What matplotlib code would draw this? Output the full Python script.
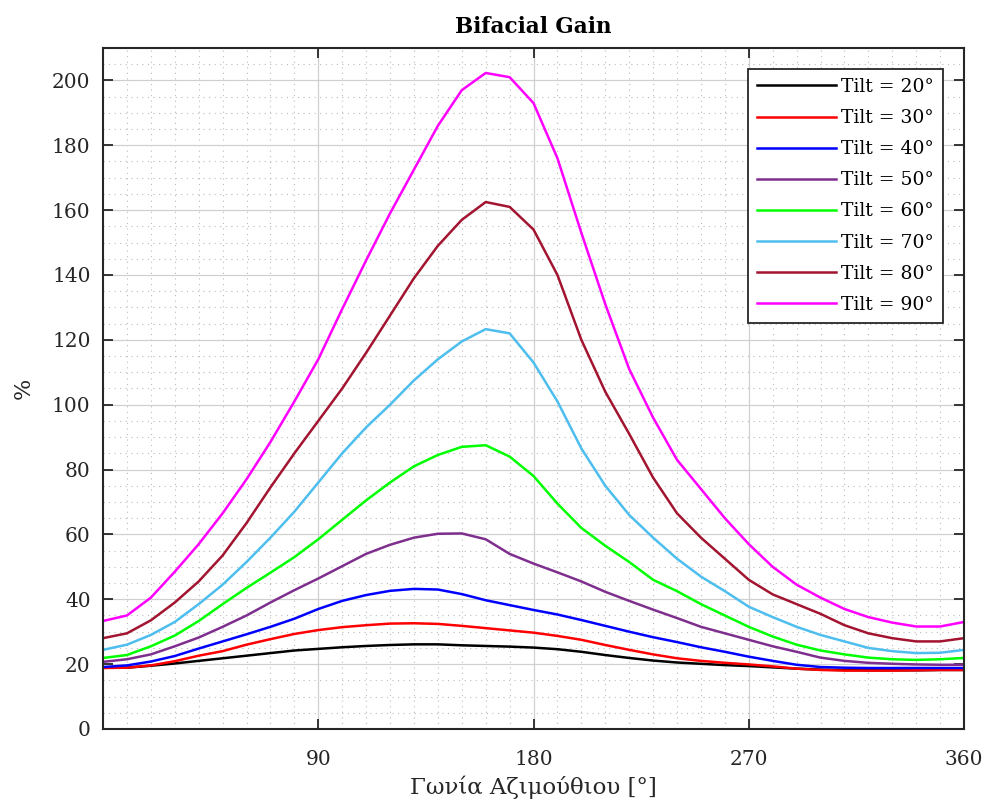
import numpy as np
import matplotlib
matplotlib.use('Agg')
import matplotlib.pyplot as plt
from matplotlib.ticker import MultipleLocator

plt.rcParams['font.family'] = ['DejaVu Serif']

# azimuth angle (deg), one reading every 10 deg
azimuth = np.arange(0, 361, 10)

tilts = [20, 30, 40, 50, 60, 70, 80, 90]

gain_20 = [18.9, 18.9, 19.5, 20.2, 21.0, 21.8, 22.6, 23.4, 24.2, 24.7, 25.2, 25.6, 25.9,
           26.1, 26.1, 25.8, 25.6, 25.4, 25.1, 24.6, 23.8, 22.8, 21.9, 21.1, 20.5, 20.1,
           19.7, 19.4, 19.0, 18.6, 18.3, 18.2, 18.1, 18.1, 18.1, 18.2, 18.2]
gain_30 = [18.8, 18.9, 19.6, 20.9, 22.6, 24.0, 26.0, 27.7, 29.3, 30.5, 31.4, 32.0, 32.5,
           32.6, 32.4, 31.8, 31.1, 30.4, 29.7, 28.7, 27.5, 25.9, 24.4, 23.0, 21.8, 21.0,
           20.4, 19.9, 19.3, 18.6, 18.2, 18.0, 18.0, 18.0, 18.1, 18.2, 18.2]
gain_40 = [19.1, 19.6, 20.8, 22.5, 24.8, 27.0, 29.2, 31.5, 34.0, 37.0, 39.5, 41.3, 42.6,
           43.2, 43.0, 41.6, 39.7, 38.2, 36.7, 35.3, 33.6, 31.8, 30.0, 28.3, 26.8, 25.2,
           23.8, 22.3, 21.0, 19.8, 19.1, 18.9, 18.8, 18.8, 18.8, 18.8, 18.8]
gain_50 = [20.7, 21.5, 23.0, 25.5, 28.2, 31.5, 35.0, 39.0, 42.8, 46.4, 50.2, 54.0, 56.8,
           59.0, 60.2, 60.3, 58.5, 54.0, 51.0, 48.3, 45.5, 42.3, 39.5, 36.8, 34.2, 31.5,
           29.5, 27.5, 25.5, 23.8, 22.0, 21.0, 20.4, 20.1, 19.9, 19.8, 19.8]
gain_60 = [21.9, 22.8, 25.5, 28.8, 33.3, 38.5, 43.5, 48.2, 53.0, 58.5, 64.5, 70.5, 76.0,
           81.0, 84.5, 87.0, 87.5, 84.0, 78.0, 69.5, 62.0, 56.5, 51.5, 46.0, 42.5, 38.5,
           35.0, 31.5, 28.5, 26.0, 24.2, 23.0, 22.0, 21.5, 21.3, 21.5, 21.9]
gain_70 = [24.4, 26.0, 29.0, 33.0, 38.5, 44.5, 51.5, 59.0, 67.0, 76.0, 85.0, 93.0, 100.0,
           107.5, 114.0, 119.5, 123.3, 122.0, 113.0, 101.0, 86.5, 75.0, 66.0, 59.0, 52.5,
           47.0, 42.5, 37.7, 34.5, 31.5, 29.0, 27.0, 25.0, 24.0, 23.4, 23.5, 24.4]
gain_80 = [28.0, 29.5, 33.5, 39.0, 45.5, 53.5, 63.5, 74.5, 85.0, 95.0, 105.0, 116.0, 127.5,
           139.0, 149.0, 157.0, 162.5, 161.0, 154.0, 140.0, 120.0, 104.0, 91.0, 77.5, 66.5,
           59.0, 52.5, 46.0, 41.5, 38.5, 35.5, 32.0, 29.5, 28.0, 27.0, 27.0, 28.0]
gain_90 = [33.3, 35.0, 40.5, 48.5, 57.0, 66.5, 77.0, 88.5, 101.0, 114.0, 129.5, 144.5, 159.0,
           172.5, 186.0, 197.0, 202.3, 201.0, 193.0, 176.0, 153.0, 131.0, 111.0, 96.0, 83.0,
           74.0, 65.0, 57.0, 50.0, 44.5, 40.5, 37.0, 34.5, 32.8, 31.6, 31.6, 33.0]

series = [gain_20, gain_30, gain_40, gain_50, gain_60, gain_70, gain_80, gain_90]
colors = ['#000000', '#ff0000', '#0000ff', '#7e2f8e', '#00ff00', '#4dbeee', '#a2142f', '#ff00ff']

fig = plt.figure(figsize=(9.84, 8.08), dpi=100)
ax = fig.add_axes([0.1047, 0.0978, 0.875, 0.8428])

for t, g, c in zip(tilts, series, colors):
    ax.plot(azimuth, g, color=c, lw=1.8, label='Tilt = %d°' % t)

ax.set_xlim(0, 360)
ax.set_ylim(0, 210)
ax.set_xticks([90, 180, 270, 360])
ax.set_yticks(np.arange(0, 201, 20))
ax.xaxis.set_minor_locator(MultipleLocator(10))
ax.yaxis.set_minor_locator(MultipleLocator(5))

ax.grid(which='major', color='#d0d0d0', lw=0.9)
ax.grid(which='minor', color='#bbbbbb', lw=0.8, linestyle=(0, (1, 4)))
ax.set_axisbelow(True)

ax.tick_params(which='major', direction='in', length=7, width=1.3, top=True, right=True,
               labelsize=14.5, colors='#262626')
ax.tick_params(axis='y', pad=9)
ax.tick_params(axis='x', pad=15)
ax.tick_params(which='minor', length=0)
for s in ax.spines.values():
    s.set_linewidth(1.5)
    s.set_color('#262626')

ax.set_title('Bifacial Gain', fontsize=15.5, fontweight='bold', pad=11)
ax.set_xlabel('Γωνία Αζιμούθιου [°]', fontsize=16.5, color='#262626', labelpad=5)
ax.set_ylabel('%', fontsize=16, color='#262626', labelpad=12)

leg = ax.legend(loc='upper right', fontsize=13.5, handlelength=4.2, labelspacing=0.7,
                fancybox=False, framealpha=1, edgecolor='#262626',
                borderaxespad=1.1, handletextpad=0.3, borderpad=0.5)
leg.get_frame().set_linewidth(1.3)

fig.savefig('out.png', dpi=100)
